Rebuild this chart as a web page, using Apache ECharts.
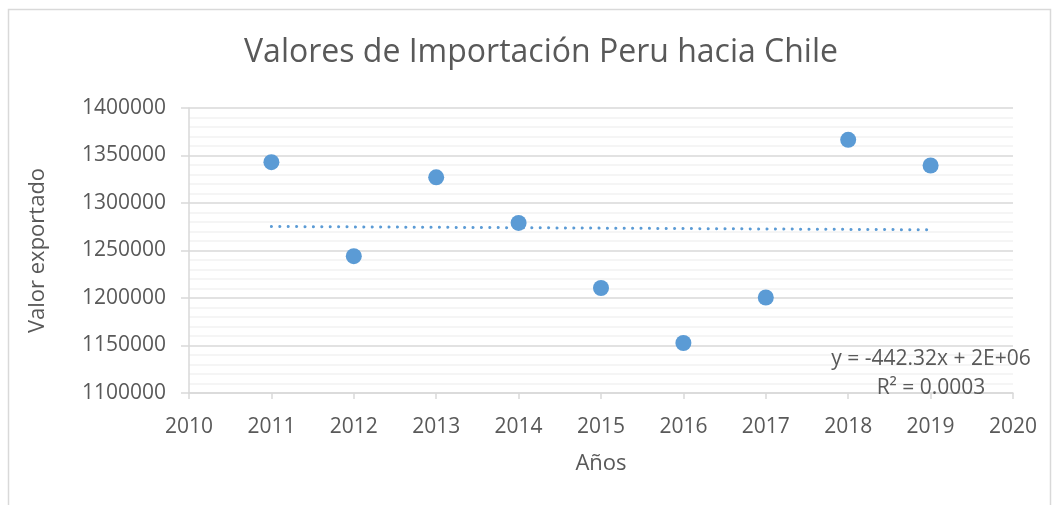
<!DOCTYPE html>
<html>
<head>
<meta charset="utf-8">
<script src="https://cdn.jsdelivr.net/npm/echarts@6/dist/echarts.min.js"></script>
<style>
  html, body { margin: 0; padding: 0; background: #fff; }
  #chartScatter { width: 1053px; height: 505px; }
</style>
</head>
<body>
<div id="chartScatter"></div>
<script>
// años y valores
const years = [2011, 2012, 2013, 2014, 2015, 2016, 2017, 2018, 2019]
const values = [1343000, 1244000, 1327000, 1279000, 1210500, 1152600, 1200500, 1366500, 1339500]
// extremos de la linea de tendencia (lineal)
const trendYears = [2011, 2019]
const trendValues = [1275300, 1271800]
const equationLines = ['y = -442.32x + 2E+06', 'R² = 0.0003']

const font = '"Open Sans", "Liberation Sans", sans-serif'
const textColor = '#595959'
const blue = '#5b9bd5'

const userChart = echarts.init(document.getElementById('chartScatter'))

const chartOption = {
  animation: false,
  title: {
    text: 'Valores de Importación Peru hacia Chile',
    left: 536,
    top: 32,
    textAlign: 'center',
    textStyle: { fontFamily: font, fontSize: 32, fontWeight: 'normal', color: textColor }
  },
  graphic: [
    {
      type: 'rect',
      shape: { x: 8.5, y: 9.5, width: 1042, height: 520 },
      style: { fill: 'none', stroke: '#d9d9d9', lineWidth: 1.5 },
      silent: true
    },
    {
      type: 'text',
      x: 931,
      y: 345,
      style: {
        text: equationLines.join('\n'),
        align: 'center',
        verticalAlign: 'top',
        font: '21px ' + font,
        lineHeight: 29,
        fill: textColor
      },
      z: 10
    }
  ],
  grid: { left: 189, right: 40, top: 108, bottom: 112 },
  xAxis: {
    type: 'value',
    min: 2010,
    max: 2020,
    interval: 1,
    name: 'Años',
    nameLocation: 'middle',
    nameGap: 60,
    nameTextStyle: { fontFamily: font, fontSize: 22, color: textColor },
    axisLine: { show: true, lineStyle: { color: '#d9d9d9', width: 1.5 } },
    axisTick: { show: true, length: 6, lineStyle: { color: '#d9d9d9', width: 1.5 } },
    axisLabel: { margin: 24, fontFamily: font, fontSize: 21, color: textColor, formatter: v => String(v) },
    splitLine: { show: false }
  },
  yAxis: {
    type: 'value',
    min: 1100000,
    max: 1400000,
    interval: 50000,
    name: 'Valor exportado',
    nameLocation: 'middle',
    nameGap: 140,
    nameTextStyle: { fontFamily: font, fontSize: 22, color: textColor },
    axisLine: { show: true, lineStyle: { color: '#d9d9d9', width: 1.5 } },
    axisTick: { show: true, length: 8, lineStyle: { color: '#d9d9d9', width: 1.5 } },
    axisLabel: { margin: 23, fontFamily: font, fontSize: 21, color: textColor, formatter: v => String(v) },
    splitLine: { show: true, lineStyle: { color: '#d9d9d9', width: 1.5 } },
    minorTick: { show: false, splitNumber: 5 },
    minorSplitLine: { show: true, lineStyle: { color: '#f2f2f2', width: 1.5 } }
  },
  series: [
    {
      type: 'line',
      data: trendYears.map((y, i) => [y, trendValues[i]]),
      symbol: 'none',
      lineStyle: { color: blue, width: 3, type: [0.1, 8.3], cap: 'round' },
      z: 2
    },
    {
      type: 'scatter',
      data: years.map((y, i) => [y, values[i]]),
      symbolSize: 16,
      itemStyle: { color: blue, opacity: 1 },
      z: 3
    }
  ]
}

userChart.setOption(chartOption)
window.addEventListener('resize', () => userChart.resize())
</script>
</body>
</html>
